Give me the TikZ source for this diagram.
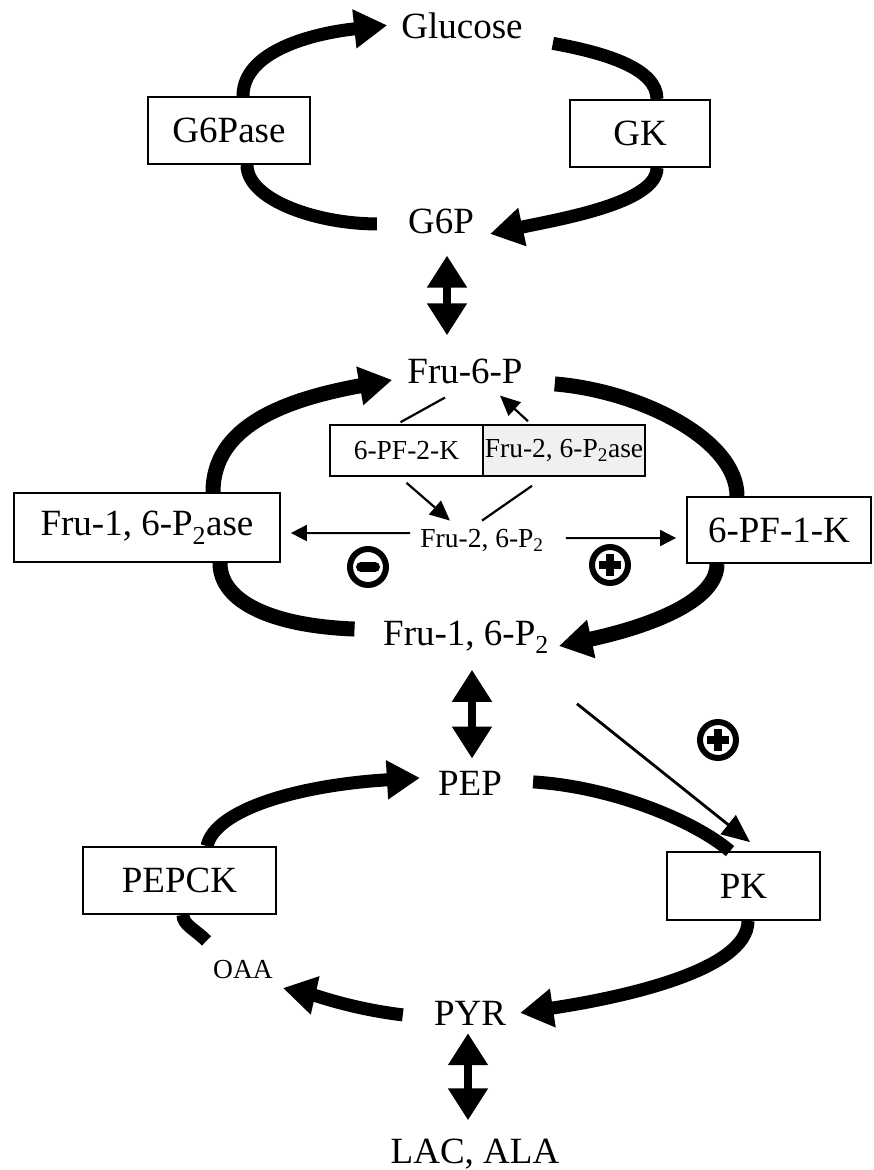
\documentclass[tikz,border=0pt]{standalone}
\usepackage{fontspec}
\setmainfont{Liberation Serif}
\usepackage{tikz}
\usetikzlibrary{arrows.meta}
\usetikzlibrary{calc}
\usetikzlibrary{positioning}
\newcommand{\bigtxt}{\fontsize{37}{40}\selectfont}
\newcommand{\smalltxt}{\fontsize{27.5}{30}\selectfont}
\tikzset{
	met/.style={inner sep=0pt,anchor=base,font=\bigtxt},
	metsmall/.style={inner sep=0pt,anchor=base,font=\smalltxt},
	enz/.style={draw,line width=1.8pt,fill=white,inner sep=0pt,font=\bigtxt},
	enzsmall/.style={draw,line width=1.6pt,inner sep=0pt,font=\smalltxt},
	flux/.style={line width=13pt,-{Triangle[length=33pt,width=37pt]}},
	fluxtail/.style={line width=13pt},
	dbl/.style={line width=8pt,{Triangle[length=32pt,width=38pt]}-{Triangle[length=32pt,width=38pt]}},
	reg/.style={line width=2pt,-{Triangle[length=16pt,width=16pt]}},
	regcat/.style={line width=2.2pt,-{Triangle[length=20pt,width=18pt]}},
	signring/.style={circle,draw,line width=6pt,minimum size=36pt,inner sep=0pt},
	signbar/.style={line width=8pt},
}

\begin{document}
\begin{tikzpicture}[x=1pt,y=-1pt]
	\useasboundingbox (0,0) rectangle (874,1170);
	% metabolites
	\node[met] (glc) at (462,38) {Glucose};
	\node[met] (g6p) at (441,233) {G6P};
	\node[met] (f6p) at (465,383) {Fru-6-P};
	\node[metsmall] (f26) at (482,547) {Fru-2, 6-P\textsubscript{2}};
	\node[met] (f16) at (466,645) {Fru-1, 6-P\textsubscript{2}};
	\node[met] (pep) at (470,795) {PEP};
	\node[metsmall] (oaa) at (243,978) {OAA};
	\node[met] (pyr) at (470,1025) {PYR};
	\node[met] (lac) at (475,1163) {LAC, ALA};
	
	% enzymes
	\node[enz,minimum width=162pt,minimum height=67pt] (g6pase) at (229,130.5) {G6Pase};
	\node[enz,minimum width=140pt,minimum height=67pt] (gk) at (640,133.5) {GK};
	\node[enz,minimum width=266pt,minimum height=69pt] (fbpase) at (147,527.5) {Fru-1, 6-P\textsubscript{2}ase};
	\node[enz,minimum width=184pt,minimum height=66pt] (pfk1) at (779,530) {6-PF-1-K};
	\node[enzsmall,fill=white,minimum width=153pt,minimum height=51pt] (pf2k) at (406.5,450.5) {6-PF-2-K};
	\node[enzsmall,fill=gray!12,minimum width=162pt,minimum height=51pt] (fbp2) at (564,450.5) {Fru-2, 6-P\textsubscript{2}ase};
	\node[enz,minimum width=193pt,minimum height=67pt] (pepck) at (179.5,880.5) {PEPCK};
	\node[enz,minimum width=153pt,minimum height=68pt] (pk) at (743.5,886) {PK};
	
	% signs
	\node[signring] (minus) at (368,567) {};
	\node[signring] (plusa) at (610,565) {};
	\node[signring] (plusb) at (718,740) {};
	\draw[signbar,line width=10pt,line cap=round] ($(minus)+(-7,0)$) -- ($(minus)+(7,0)$);
	\foreach \s in {plusa,plusb} {
		\draw[signbar] ($(\s)+(-11,0)$) -- ($(\s)+(11,0)$);
		\draw[signbar] ($(\s)+(0,-11)$) -- ($(\s)+(0,11)$);
	}
	
	% glucose cycle
	\draw[flux] ($(g6pase.north)+(14,0)$) .. controls +(0,-45) and +(-75,8) .. ($(glc.west)+(-14,0)$);
	\draw[fluxtail] ($(glc.east)+(30,18)$) .. controls +(55,10) and +(0,-30) .. ($(gk.north)+(17,0)$);
	\draw[fluxtail] ($(g6pase.south)+(18,0)$) .. controls +(0,35) and +(-60,0) .. ($(g6p.west)+(-31,3)$);
	\draw[flux] ($(gk.south)+(17,0)$) .. controls +(0,35) and +(70,-15) .. ($(g6p.east)+(16,13)$);
	\draw[dbl] ($(g6p.south)+(6,22)$) -- ($(f6p.north)+(-18,-23)$);
	
	% fructose cycle
	\draw[flux,line width=15pt] ($(fbpase.north)+(66,0)$) .. controls +(0,-65) and +(-110,20) .. ($(f6p.west)+(-15,9)$);
	\draw[fluxtail,line width=15pt] ($(fbpase.south)+(73,0)$) .. controls +(0,40) and +(-80,-3) .. ($(f16.west)+(-28.5,-8)$);
	\draw[fluxtail,line width=15pt] ($(f6p.east)+(32,13)$) .. controls +(85,7) and +(0,-57) .. ($(pfk1.north)+(-42,0)$);
	\draw[flux,line width=15pt] ($(pfk1.south)+(-62,0)$) .. controls +(0,37) and +(92,-20) .. ($(f16.east)+(10,9)$);
	\draw[line width=2.2pt] ($(f6p.south)+(-20,14)$) -- ($(pf2k.north)+(-6,-2)$);
	\draw[regcat] ($(fbp2.north)+(-36,-3)$) -- ($(f6p.south)+(35,12)$);
	\draw[regcat] ($(pf2k.south)+(0,6)$) -- ($(f26.north)+(-32,-8)$);
	\draw[line width=2.2pt] ($(f26.north)+(0,-8)$) -- ($(fbp2.south)+(-32,9)$);
	\draw[reg] ($(f26.west)+(-10,-7)$) -- ($(fbpase.east)+(10,5.5)$);
	\draw[reg] ($(f26.east)+(22,-2)$) -- ($(pfk1.west)+(-10,8)$);
	\draw[line width=2.8pt,-{Triangle[length=28pt,width=24pt]}] ($(f16.south east)+(28,50)$) -- ($(pk.north)+(6.5,-9)$);
	\draw[dbl] ($(f16.south)+(6,16)$) -- ($(pep.north)+(2,-12)$);
	
	% pyruvate cycle
	\draw[flux] ($(pepck.north)+(27.5,0)$) .. controls +(8,-37) and +(-120,7) .. ($(pep.west)+(-18,-5)$);
	\draw[fluxtail] ($(pep.east)+(31,-1)$) .. controls +(80,5) and +(-35,-30) .. ($(pk.north)+(-13.5,0)$);
	\draw[flux] ($(pk.south)+(4.5,0)$) .. controls +(0,50) and +(100,-15) .. ($(pyr.east)+(14,0)$);
	\draw[fluxtail] ($(pepck.south)+(3.5,0)$) .. controls +(0,10) and +(-12,-12) .. ($(pepck.south)+(27,26)$);
	\draw[flux] ($(pyr.west)+(-31,2)$) .. controls +(-50,-6) and +(35,8) .. ($(oaa.east)+(10,19)$);
	\draw[dbl] ($(pyr.south)+(-2,8)$) -- ($(lac.north)+(-7,-18)$);
\end{tikzpicture}
\end{document}
